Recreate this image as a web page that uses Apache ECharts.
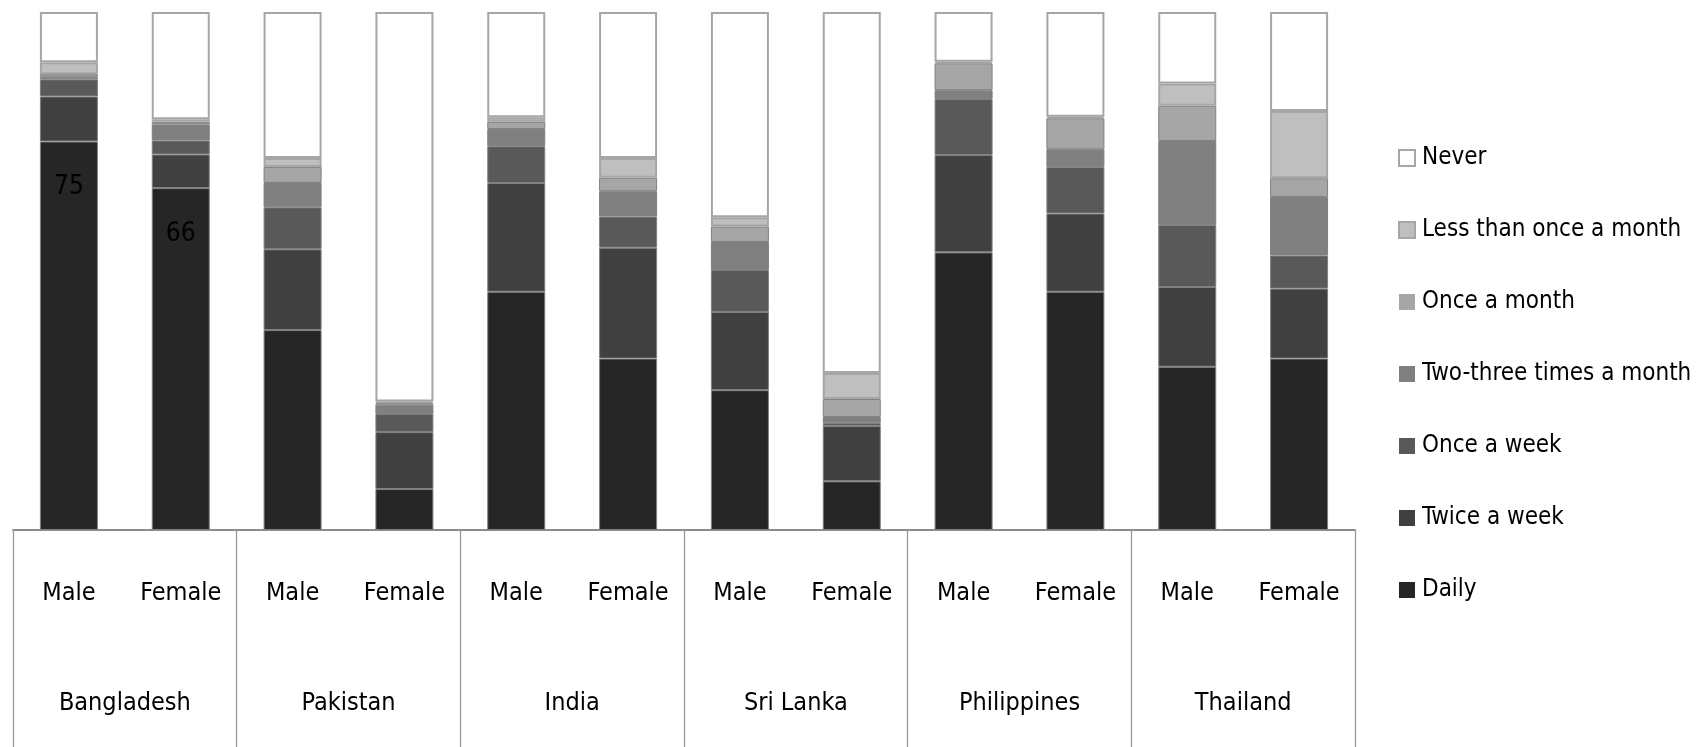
<!DOCTYPE html>
<html>
<head>
<meta charset="utf-8">
<script src="https://cdn.jsdelivr.net/npm/echarts@6/dist/echarts.min.js"></script>
<style>
html,body{margin:0;padding:0;background:#fff;}
#chart{width:1701px;height:747px;}
</style>
</head>
<body>
<div id="chart"></div>
<script>
// Categories
var countries = ['Bangladesh', 'Pakistan', 'India', 'Sri Lanka', 'Philippines', 'Thailand'];
var genders = ['Male', 'Female', 'Male', 'Female', 'Male', 'Female', 'Male', 'Female', 'Male', 'Female', 'Male', 'Female'];
var seriesNames = ['Daily', 'Twice a week', 'Once a week', 'Two-three times a month', 'Once a month', 'Less than once a month', 'Never'];

// Values (%), order: BD M, BD F, PK M, PK F, IN M, IN F, SL M, SL F, PH M, PH F, TH M, TH F
var daily      = [75, 66, 38.6, 7.9, 46.0, 33.1, 27.0, 9.4, 53.6, 46.0, 31.5, 33.1];
var twiceWeek  = [8.7, 6.5, 15.6, 11.0, 21.0, 21.4, 15.1, 10.7, 18.8, 15.1, 15.4, 13.5];
var onceWeek   = [3.3, 2.7, 8.1, 3.5, 7.1, 6.0, 8.1, 0.6, 10.8, 9.0, 12.0, 6.4];
var twoThree   = [0.5, 3.1, 4.7, 1.8, 3.3, 4.9, 5.4, 1.1, 1.7, 3.4, 16.2, 11.3];
var onceMonth  = [0.5, 0.5, 3.1, 0.3, 1.4, 2.6, 3.0, 3.5, 5.2, 6.0, 6.8, 3.6];
var lessMonth  = [2.3, 0.5, 1.7, 0.3, 0.9, 3.8, 1.8, 5.0, 0.3, 0.3, 4.3, 13.0];
var never      = [9.7, 20.7, 28.2, 75.2, 20.3, 28.2, 39.6, 69.7, 9.6, 20.2, 13.8, 19.1];
var labelledBars = [0, 1]; // bars whose Daily value is printed

var FONT = "'DejaVu Sans Condensed', 'Liberation Sans Narrow', sans-serif";
var colors = ['#262626', '#404040', '#595959', '#808080', '#a6a6a6', '#bfbfbf', '#ffffff'];
var allValues = [daily, twiceWeek, onceWeek, twoThree, onceMonth, lessMonth, never];

var series = seriesNames.map(function (name, i) {
  var light = i >= 5;
  var s = {
    name: name,
    type: 'bar',
    stack: 'total',
    barWidth: 58,
    xAxisIndex: 0,
    data: allValues[i],
    itemStyle: {
      color: colors[i],
      borderColor: light ? '#a6a6a6' : '#7f7f7f',
      borderWidth: light ? 2 : 1
    },
    emphasis: { disabled: true }
  };
  if (i === 0) {
    s.label = {
      show: true,
      position: 'insideTop',
      distance: 33,
      color: '#000',
      fontFamily: FONT,
      fontSize: 26,
      formatter: function (p) {
        return labelledBars.indexOf(p.dataIndex) >= 0 ? String(Math.round(p.value)) : '';
      }
    };
  }
  return s;
});

var legendData = seriesNames.slice().reverse().map(function (n) {
  var i = seriesNames.indexOf(n);
  return {
    name: n,
    itemStyle: i >= 5 ? { borderColor: '#a6a6a6', borderWidth: 2 } : { borderWidth: 0 }
  };
});

var chart = echarts.init(document.getElementById('chart'), null, { renderer: 'canvas' });
chart.setOption({
  animation: false,
  backgroundColor: '#ffffff',
  grid: { left: 13, right: 346, top: 12, bottom: 217, containLabel: false },
  legend: {
    orient: 'vertical',
    left: 1393,
    top: 139,
    itemWidth: 16,
    itemHeight: 16,
    itemGap: 44,
    icon: 'rect',
    selectedMode: false,
    data: legendData,
    textStyle: { fontFamily: FONT, fontSize: 24, lineHeight: 28, color: '#000', padding: [0, 0, 0, 2] }
  },
  xAxis: [
    {
      type: 'category',
      data: genders,
      position: 'bottom',
      axisLine: { show: true, lineStyle: { color: '#8c8c8c', width: 2 } },
      axisTick: { show: false },
      axisLabel: { interval: 0, margin: 51, color: '#000', fontFamily: FONT, fontSize: 25 }
    },
    {
      type: 'category',
      data: countries,
      position: 'bottom',
      axisLine: { show: false },
      axisTick: { show: true, length: 217, interval: 0, lineStyle: { color: '#999999', width: 1.3 } },
      axisLabel: { interval: 0, margin: 161, color: '#000', fontFamily: FONT, fontSize: 25 }
    }
  ],
  yAxis: {
    type: 'value',
    min: 0,
    max: 100,
    show: false
  },
  series: series
});
</script>
</body>
</html>
